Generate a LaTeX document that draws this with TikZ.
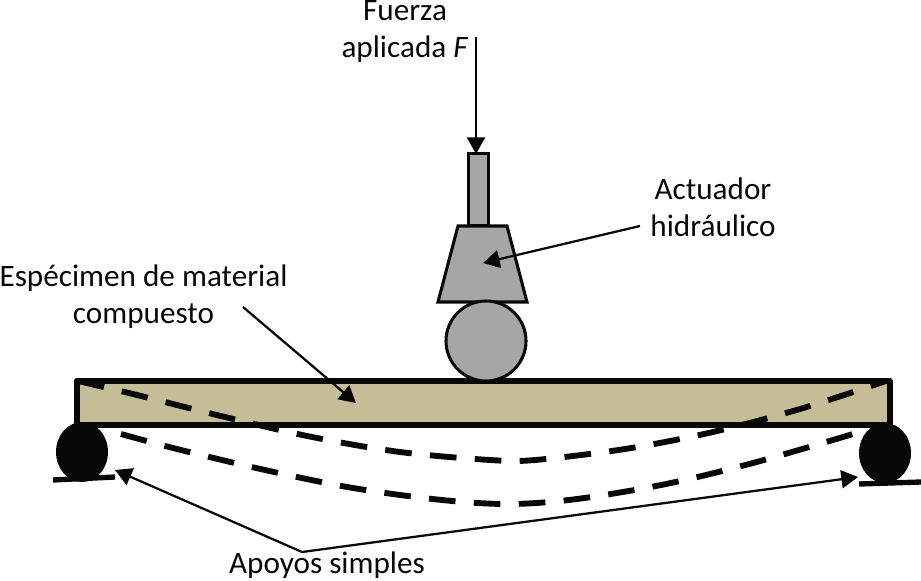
\documentclass[tikz,border=0pt]{standalone}
\usepackage{fontspec}
\setmainfont{Carlito}
\usetikzlibrary{arrows.meta}
\definecolor{sand}{RGB}{196,189,151}
\definecolor{steel}{RGB}{166,166,166}
\definecolor{ink}{RGB}{8,8,8}
\tikzset{
  >={Triangle[length=12.5pt,width=13.5pt]},
  tag/.style={font=\fontsize{23.4}{27.75}\selectfont,text=ink,align=center,inner sep=0pt},
  pointer/.style={->,draw=ink,line width=1.7pt},
  part/.style={draw=ink,fill=steel,line width=2.3pt},
  support/.style={fill=ink},
  ground/.style={draw=ink,line width=4pt},
  deflect/.style={draw=ink,line width=4.4pt,dash pattern=on 20pt off 13.75pt},
}
\begin{document}
\begin{tikzpicture}[x=0.75pt,y=-0.75pt]
    \useasboundingbox (0,0) rectangle (921,581);
    % beam and supports
    \draw[fill=sand,draw=ink,line width=4.5pt,line join=round] (76.5,381) rectangle (889.5,425);
    \fill[support] (82,452) ellipse (26 and 30);
    \fill[support] (885,453) ellipse (26 and 30);
    \draw[ground] (53,480) -- (115,477);
    \draw[ground] (859,484) -- (921,482);
    % actuator
    \draw[part] (468.5,153.5) rectangle (488.5,226);
    \draw[part,line join=miter] (458,226) -- (507,226) -- (527,302) -- (438,302) -- cycle;
    \draw[part] (486,341) circle (40);
    % deflected shapes
    \draw[deflect] plot[smooth,tension=0.55] coordinates {(78,381) (137,395) (225,417) (312,437) (400,452) (490,460) (535,460) (625,449) (713,432) (800,409) (886,381)};
    \draw[deflect] plot[smooth,tension=0.55] coordinates {(121,434) (177,449) (265,470) (353,488) (442,500) (510,504) (577,499) (666,484) (753,463) (853,434)};
    % labels
    \node[tag] (fuerza) at (405,31.5) {Fuerza\\aplicada \textit{F}};
    \node[tag] (actuador) at (713,207) {Actuador\\hidráulico};
    \node[tag] (especimen) at (143.5,297) {Espécimen de material\\compuesto};
    \node[tag] (apoyos) at (327,565) {Apoyos simples};
    \coordinate (fuerza top) at (476,37);
    \coordinate (rod top) at (476,154);
    \coordinate (actuador end) at (640,226);
    \coordinate (body) at (483,263);
    \coordinate (especimen end) at (243,307);
    \coordinate (beam) at (356,403);
    \coordinate (split) at (302,552);
    \coordinate (left support) at (115,470);
    \coordinate (right support) at (858,477);
    \draw[pointer] (fuerza top) -- (rod top);
    \draw[pointer] (actuador end) -- (body);
    \draw[pointer] (especimen end) -- (beam);
    \draw[pointer] (split) -- (left support);
    \draw[pointer] (split) -- (right support);
\end{tikzpicture}
\end{document}
